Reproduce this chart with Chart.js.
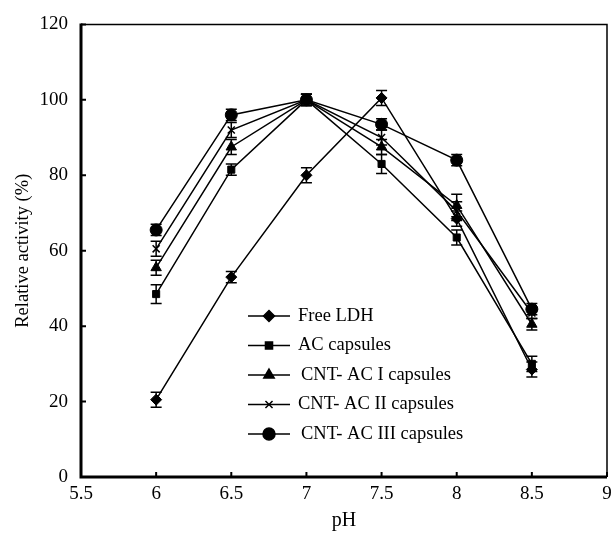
<!DOCTYPE html>
<html>
<head>
<meta charset="utf-8">
<script src="https://cdn.jsdelivr.net/npm/chart.js@4.4.0/dist/chart.umd.min.js"></script>
<style>
html,body{margin:0;padding:0;background:#fff;}
#wrap{width:614px;height:538px;}
</style>
</head>
<body>
<div id="wrap"><canvas id="c" width="614" height="538"></canvas></div>
<script>
const pH = [6, 6.5, 7, 7.5, 8, 8.5];
const xTicks = [5.5, 6, 6.5, 7, 7.5, 8, 8.5, 9];
const yTicks = [0, 20, 40, 60, 80, 100, 120];
const seriesNames = ["Free LDH", "AC capsules", "CNT- AC I capsules", "CNT- AC II capsules", "CNT- AC III capsules"];
const freeLDH   = [20.5, 53, 80, 100.5, 68.5, 28.5];
const acCaps    = [48.5, 81.5, 100, 83, 63.5, 30];
const cntAC1    = [55.5, 87.5, 100, 87.5, 72, 40.5];
const cntAC2    = [60.5, 92, 100, 90, 70.5, 43.5];
const cntAC3    = [65.5, 96, 100, 93.5, 84, 44.5];
const errFree   = [2, 1.5, 2, 2, 2, 2];
const errAC     = [2.5, 1.5, 1.5, 2.5, 2, 2];
const errC1     = [2, 2, 1.5, 2, 3, 1.5];
const errC2     = [2, 2, 1.5, 2, 2.5, 1.5];
const errC3     = [1.5, 1.5, 1.5, 1.5, 1.5, 1.5];
const markers   = ["rectRot", "rect", "triangle", "crossRot", "circle"];
const radii     = [5.5, 5, 6, 5, 6];

const values = [freeLDH, acCaps, cntAC1, cntAC2, cntAC3];
const errors = [errFree, errAC, errC1, errC2, errC3];

const SERIF = "'Liberation Serif', 'Times New Roman', serif";

const datasets = values.map((vals, i) => ({
  label: seriesNames[i],
  data: vals.map((v, j) => ({x: pH[j], y: v})),
  errors: errors[i],
  borderColor: '#000',
  backgroundColor: '#000',
  borderWidth: 1.5,
  pointStyle: markers[i],
  pointRadius: radii[i],
  pointBorderColor: '#000',
  pointBackgroundColor: '#000',
  pointBorderWidth: markers[i] === 'crossRot' ? 1.5 : 1,
  tension: 0,
  fill: false
}));

const errorBars = {
  id: 'errorBars',
  afterDatasetsDraw(chart) {
    const ctx = chart.ctx;
    const ys = chart.scales.y;
    ctx.save();
    ctx.strokeStyle = '#000';
    ctx.lineWidth = 1.5;
    chart.data.datasets.forEach((ds, di) => {
      const meta = chart.getDatasetMeta(di);
      meta.data.forEach((pt, j) => {
        const v = ds.data[j].y, e = ds.errors[j];
        const yt = ys.getPixelForValue(v + e), yb = ys.getPixelForValue(v - e);
        ctx.beginPath();
        ctx.moveTo(pt.x, yt); ctx.lineTo(pt.x, yb);
        ctx.moveTo(pt.x - 5.5, yt); ctx.lineTo(pt.x + 5.5, yt);
        ctx.moveTo(pt.x - 5.5, yb); ctx.lineTo(pt.x + 5.5, yb);
        ctx.stroke();
      });
    });
    ctx.restore();
  }
};

const frame = {
  id: 'frame',
  afterDraw(chart) {
    const {ctx, chartArea: a, scales} = chart;
    ctx.save();
    ctx.strokeStyle = '#000';
    ctx.lineWidth = 1.5;
    ctx.beginPath();
    ctx.moveTo(a.left, a.top); ctx.lineTo(a.right, a.top); ctx.lineTo(a.right, a.bottom);
    ctx.stroke();
    ctx.lineWidth = 3;
    ctx.beginPath();
    ctx.moveTo(a.left, a.top - 1); ctx.lineTo(a.left, a.bottom); ctx.lineTo(a.right, a.bottom);
    ctx.stroke();
    ctx.lineWidth = 2;
    ctx.beginPath();
    xTicks.forEach(t => { const x = scales.x.getPixelForValue(t); ctx.moveTo(x, a.bottom); ctx.lineTo(x, a.bottom - 5); });
    yTicks.forEach(t => { const y = scales.y.getPixelForValue(t); ctx.moveTo(a.left, y); ctx.lineTo(a.left + 5, y); });
    ctx.stroke();
    // legend
    const lx0 = 248, lx1 = 290, tx = 298, y0 = 316, dy = 29.5;
    ctx.font = "18.5px " + SERIF;
    ctx.fillStyle = '#000';
    ctx.textBaseline = 'middle';
    ctx.textAlign = 'left';
    chart.data.datasets.forEach((ds, i) => {
      const y = y0 + i * dy;
      ctx.lineWidth = 1.5;
      ctx.beginPath(); ctx.moveTo(lx0, y); ctx.lineTo(lx1, y); ctx.stroke();
      Chart.helpers.drawPoint(ctx, {pointStyle: ds.pointStyle, radius: ds.pointRadius, borderWidth: ds.pointBorderWidth}, (lx0 + lx1) / 2, y);
      ctx.fillText(ds.label, tx + (i === 2 || i === 4 ? 3 : 0), y);
    });
    ctx.restore();
  }
};

new Chart(document.getElementById('c'), {
  type: 'line',
  data: { datasets },
  options: {
    responsive: false,
    animation: false,
    devicePixelRatio: 1,
    layout: { padding: { top: 17, right: 4, left: 0, bottom: 0 } },
    plugins: { legend: { display: false }, tooltip: { enabled: false } },
    scales: {
      x: {
        type: 'linear', min: 5.5, max: 9,
        afterBuildTicks(s) { s.ticks = xTicks.map(v => ({value: v})); },
        afterFit(s) { s.height = 61; s.paddingRight = 0; s.paddingLeft = 0; },
        grid: { display: false, drawTicks: false },
        border: { display: false },
        ticks: { color: '#000', padding: 6, font: { family: SERIF, size: 19 }, maxRotation: 0, callback: v => String(v) },
        title: { display: true, text: 'pH', color: '#000', font: { family: SERIF, size: 20 }, padding: { top: 0, bottom: 5 } }
      },
      y: {
        min: 0, max: 120,
        afterBuildTicks(s) { s.ticks = yTicks.map(v => ({value: v})); },
        afterFit(s) { s.width = 81; },
        grid: { display: false, drawTicks: false },
        border: { display: false },
        ticks: { color: '#000', padding: 13, font: { family: SERIF, size: 19 } },
        title: { display: true, text: 'Relative activity (%)', color: '#000', font: { family: SERIF, size: 18.5 }, padding: { top: 12, bottom: 0 } }
      }
    }
  },
  plugins: [errorBars, frame]
});
</script>
</body>
</html>
